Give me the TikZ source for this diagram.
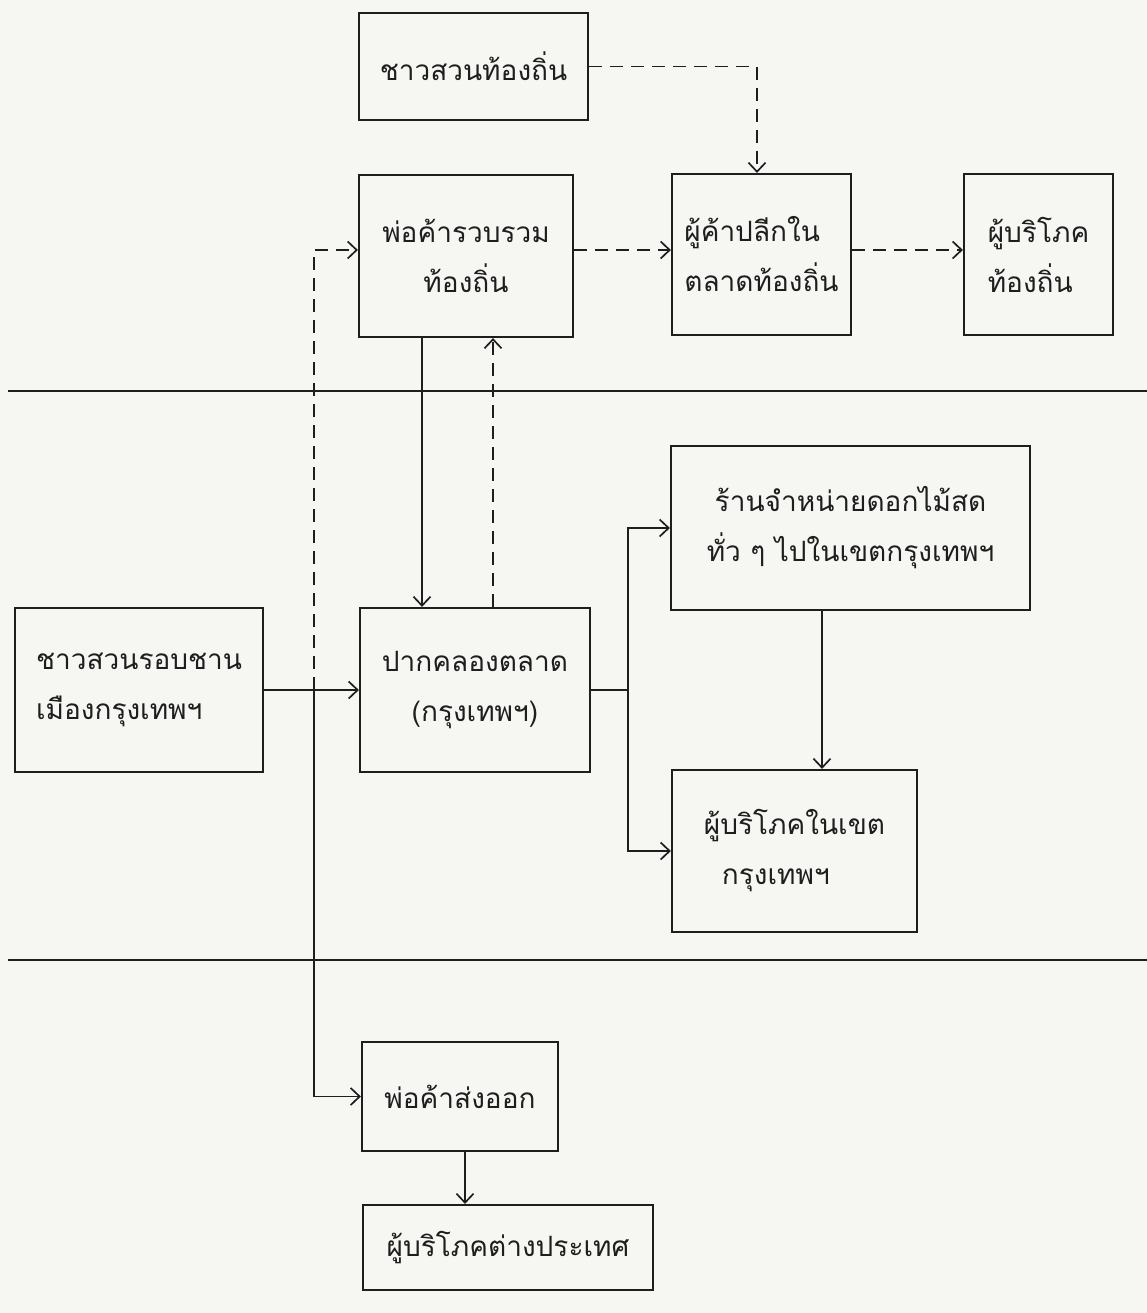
\documentclass[tikz,border=0pt]{standalone}
\usepackage{fontspec}
\newfontfamily\thaifont[Script=Thai]{Loma}
\usetikzlibrary{arrows.meta}
\definecolor{paper}{RGB}{246,246,243}
\definecolor{ink}{RGB}{30,30,30}
\begin{document}
\begin{tikzpicture}[x=1pt,y=-1pt,
  box/.style={draw=ink, line width=2.2pt, inner sep=0pt, text=ink,
    font=\thaifont\fontsize{28}{50}\selectfont},
  flow/.style={draw=ink, line width=1.7pt, -{Straight Barb[length=9pt,width=17pt]}},
  dflow/.style={flow, dash pattern=on 13pt off 8pt},
  plain/.style={draw=ink, line width=1.7pt},
  sepline/.style={draw=ink, line width=1.6pt}]
\fill[paper] (0,0) rectangle (1147,1313);
\useasboundingbox (0,0) rectangle (1147,1313);

% nodes
\node[box, minimum width=229pt, minimum height=107pt] (farm1) at (473.5,66.5) {ชาวสวนท้องถิ่น};
\node[box, minimum width=214pt, minimum height=162pt, align=center] (collector) at (466,256) {พ่อค้ารวบรวม\\ท้องถิ่น};
\node[box, minimum width=179pt, minimum height=161pt, align=left] (retail) at (761.5,254.5) {ผู้ค้าปลีกใน\\ตลาดท้องถิ่น};
\node[box, minimum width=149pt, minimum height=161pt, align=left] (localc) at (1038.5,254.5) {ผู้บริโภค\\ท้องถิ่น};
\node[box, minimum width=359pt, minimum height=164pt, align=center] (shop) at (850.5,528) {ร้านจำหน่ายดอกไม้สด\\ทั่ว ๆ ไปในเขตกรุงเทพฯ};
\node[box, minimum width=248pt, minimum height=164pt, align=left] (farm2) at (139,690) {ชาวสวนรอบชาน\\เมืองกรุงเทพฯ};
\node[box, minimum width=230pt, minimum height=164pt, align=center] (market) at (475,690) {ปากคลองตลาด\\(กรุงเทพฯ)};
\node[box, minimum width=245pt, minimum height=162pt, align=left] (bkkc) at (794.5,851) {ผู้บริโภคในเขต\\\hspace*{18pt}กรุงเทพฯ};
\node[box, minimum width=196pt, minimum height=109pt] (exporter) at (460,1096.5) {พ่อค้าส่งออก};
\node[box, minimum width=290pt, minimum height=85pt] (foreign) at (508,1247.5) {ผู้บริโภคต่างประเทศ};

% helper coordinates
\coordinate (row1) at (0,250);
\coordinate (dv) at (314,690);
\coordinate (vS) at (422,0);
\coordinate (vD) at (493,0);
\coordinate (br) at (628,690);
\coordinate (vC) at (822,0);
\coordinate (vE) at (465,0);
\coordinate (vT) at (757,0);

% separators
\draw[sepline] (8,391) -- (1147,391);
\draw[sepline] (8,960) -- (1147,960);

% connectors
\draw[dflow] (farm1.east) -| (retail.north -| vT);
\draw[dflow] (collector.east |- row1) -- (retail.west |- row1);
\draw[dflow] (retail.east |- row1) -- (localc.west |- row1);
\draw[dflow] (dv) |- (collector.west |- row1);
\draw[flow] (collector.south -| vS) -- (market.north -| vS);
\draw[dflow] (market.north -| vD) -- (collector.south -| vD);
\draw[flow] (farm2.east) -- (market.west);
\draw[flow] (dv) |- (exporter.west);
\draw[plain] (market.east) -- (br);
\draw[flow] (br) |- (shop.west);
\draw[flow] (br) |- (bkkc.west);
\draw[flow] (shop.south -| vC) -- (bkkc.north -| vC);
\draw[flow] (exporter.south -| vE) -- (foreign.north -| vE);
\end{tikzpicture}
\end{document}
